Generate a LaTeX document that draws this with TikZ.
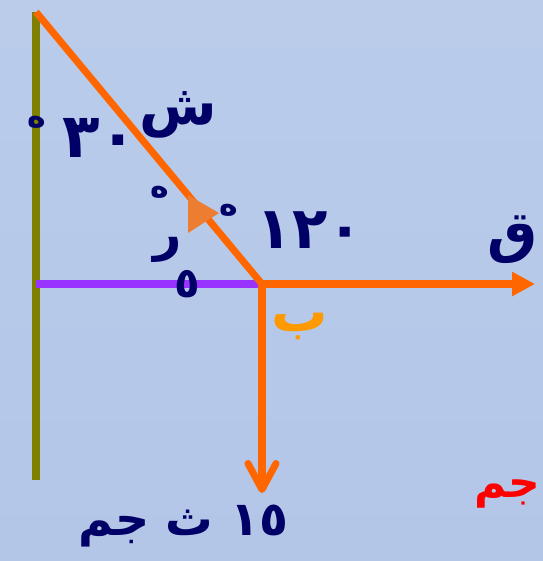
\documentclass[tikz,border=0pt]{standalone}
\usepackage{fontspec}
\TeXXeTstate=1
\newfontfamily\arabicfont[Script=Arabic]{DejaVu Sans}
\usetikzlibrary{arrows.meta}
\definecolor{bgtop}{RGB}{186,204,234}
\definecolor{bgmid}{RGB}{170,189,228}
\definecolor{bgbot}{RGB}{180,198,232}
\definecolor{navytext}{RGB}{0,0,102}
\definecolor{rayorange}{RGB}{255,102,0}
\definecolor{markorange}{RGB}{237,125,49}
\definecolor{olivebar}{RGB}{128,128,0}
\definecolor{normviolet}{RGB}{153,51,255}

\begin{document}
\begin{tikzpicture}[x=0.02cm, y=-0.02cm,
    ar/.style={font=\arabicfont\bfseries\fontsize{32}{34}\selectfont, text=navytext, inner sep=0pt},
    sm/.style={font=\arabicfont\bfseries\fontsize{18}{20}\selectfont, text=navytext, inner sep=0pt},
    ray/.style={draw=rayorange, line width=4pt},
]
% background
\fill[top color=bgtop, middle color=bgmid, bottom color=bgbot] (0,0) rectangle (543,561);
\useasboundingbox (0,0) rectangle (543,561);

\coordinate (mtop) at (36,12);
\coordinate (mbot) at (36,480);
\coordinate (nleft) at (36,284);
\coordinate (hit) at (262,284);
\coordinate (qend) at (535,284);
\coordinate (jend) at (262,493);

% mirror, normal, rays
\draw[olivebar, line width=4pt] (mtop) -- (mbot);
\draw[normviolet, line width=4pt] (nleft) -- (hit);
\draw[ray] (mtop) -- (hit);
\draw[ray, -{Triangle[length=0.46cm, width=0.46cm]}] (hit) -- (qend);
\draw[ray, -{Straight Barb[length=0.52cm, width=0.56cm, round]}] (hit) -- (jend);
\fill[markorange] (188,195) -- (219,213) -- (188,233) -- cycle;

% labels
\node[ar] (shin) at (178,115) {\beginR ش\endR};
\node[ar, font=\arabicfont\bfseries\fontsize{35}{37}\selectfont] (thirty) at (100,138) {\beginR ٣٠\endR};
\node[sm] (deg1) at (37,122) {\beginR ه\endR};
\node[ar, font=\arabicfont\bfseries\fontsize{33}{35}\selectfont] (onetwenty) at (310,230) {\beginR ١٢٠\endR};
\node[sm] (deg2) at (229,210) {\beginR ه\endR};
\node[sm] (deg3) at (160,192) {\beginR ه\endR};
\node[ar, font=\arabicfont\bfseries\fontsize{28}{30}\selectfont] (reh) at (168,250) {\beginR ر\endR};
\node[ar, font=\arabicfont\bfseries\fontsize{24}{26}\selectfont] (five) at (187,284) {\beginR ٥\endR};
\node[ar] (qaf) at (513,240) {\beginR ق\endR};
\node[ar, text={rgb,255:red,255;green,153;blue,0}] (beh) at (300,326) {\beginR ب\endR};
\node[ar, font=\arabicfont\bfseries\fontsize{27}{29}\selectfont] (bottomtext) at (183,526) {\beginR ١٥ ث جم\endR};
\node[ar, text=red, font=\arabicfont\bfseries\fontsize{25}{27}\selectfont, anchor=east] (jim) at (541,494) {\beginR جم\endR};
\end{tikzpicture}
\end{document}
